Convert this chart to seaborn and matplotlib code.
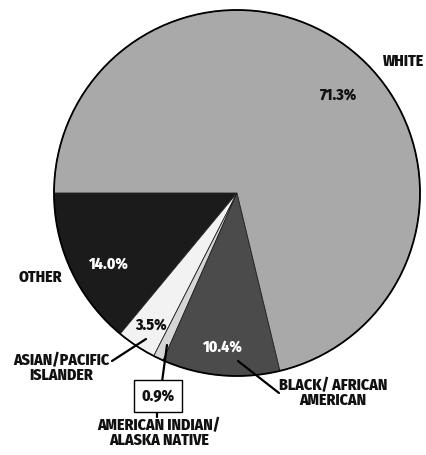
import matplotlib
matplotlib.use("Agg")
import matplotlib.pyplot as plt
import seaborn as sns

sns.set_style("white")

categories = ["OTHER", "ASIAN/PACIFIC\nISLANDER", "AMERICAN INDIAN/\nALASKA NATIVE",
              "BLACK/ AFRICAN\nAMERICAN", "WHITE"]
values = [14.0, 3.5, 0.9, 10.4, 71.3]
pct_labels = ["14.0%", "3.5%", "0.9%", "10.4%", "71.3%"]
colors = ["#1b1b1b", "#f2f2f2", "#d6d6d6", "#4b4b4b", "#a9a9a9"]

FONT = ["Fira Sans Condensed", "DejaVu Sans"]
plt.rcParams['font.family'] = FONT

W, H = 426, 455
fig = plt.figure(figsize=(W / 100, H / 100), dpi=100)
ax = fig.add_axes([0, 0, 1, 1])

def py(y):
    return H - y

cx, cy, r = 237, 193, 183
wedges, _ = ax.pie(values, colors=colors, startangle=180, counterclock=True,
                   center=(cx, py(cy)), radius=r, frame=True,
                   wedgeprops=dict(edgecolor="#222222", linewidth=0.6))
circ = plt.Circle((cx, py(cy)), r, fill=False, edgecolor="black", linewidth=1.3)
ax.add_patch(circ)

ax.set_xlim(0, W)
ax.set_ylim(0, H)
ax.set_aspect("equal")
ax.axis("off")

fs = 11.3
tk = dict(fontweight=800, fontsize=fs, ha="center", va="center")

# percentages
ax.text(338, py(95), pct_labels[4], color="#111111", **tk)
ax.text(108, py(264), pct_labels[0], color="white", **tk)
ax.text(151, py(325), pct_labels[1], color="#111111", **tk)
ax.text(222, py(347), pct_labels[3], color="white", **tk)
ax.text(158, py(396), pct_labels[2], color="#111111",
        bbox=dict(boxstyle="square,pad=0.5", facecolor="white", edgecolor="black", linewidth=1.0),
        **tk)

# category names
ax.text(404, py(61), categories[4], color="#111111", **tk)
ax.text(40, py(277), categories[0], color="#111111", **tk)
ax.text(61, py(368), categories[1], color="#111111", linespacing=0.85, **tk)
ax.text(159, py(433), categories[2], color="#111111", linespacing=0.85, **tk)
ax.text(333, py(393), categories[3], color="#111111", linespacing=0.85, **tk)

# leader lines
lk = dict(color="black", linewidth=1.6)
ax.plot([112, 146], [py(361), py(339)], **lk)
ax.plot([162, 167], [py(382), py(345)], **lk)
ax.plot([157, 157], [py(411), py(417)], **lk)
ax.plot([238, 279], [py(361), py(393)], **lk)

fig.savefig("out.png", dpi=100, facecolor="white")
